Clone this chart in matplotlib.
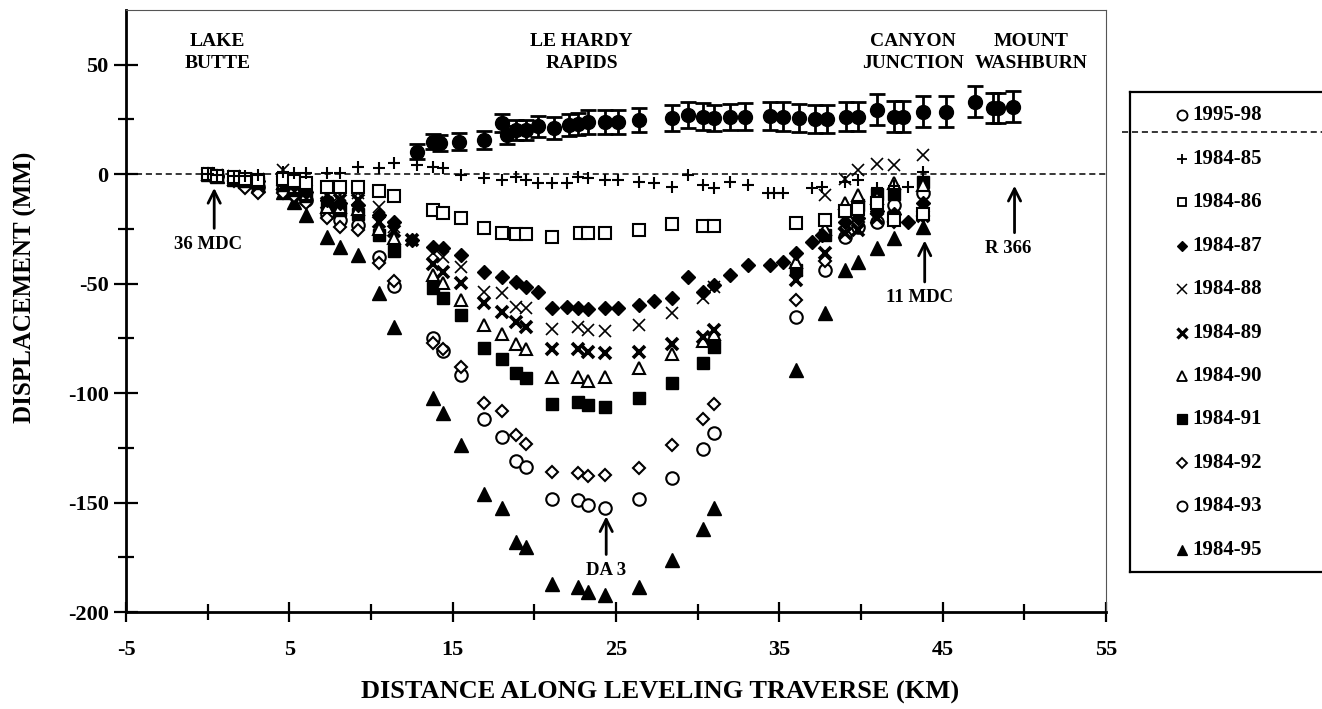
import numpy as np
import matplotlib
matplotlib.use('Agg')
import matplotlib.pyplot as plt

plt.rcParams['font.family'] = ['Liberation Serif', 'DejaVu Serif']
plt.rcParams['font.weight'] = 'bold'
plt.rcParams['axes.unicode_minus'] = False

# --- survey data (km along traverse, displacement in mm) ---
km_9598 = [12.8, 13.8, 14.2, 15.4, 16.9, 18.0, 18.3, 18.9, 19.5, 20.2, 21.2, 22.1, 22.7,
           23.3, 24.3, 25.1, 26.4, 28.4, 29.4, 30.3, 31.0, 32.0, 32.9, 34.4, 35.2, 36.2,
           37.2, 37.9, 39.1, 39.8, 41.0, 42.0, 42.6, 43.8, 45.2, 47.0, 48.1, 48.4, 49.3]
d_9598 = [10.3, 14.9, 14.2, 14.9, 15.7, 23.3, 18.0, 20.3, 20.3, 21.8, 21.0, 22.5, 23.0,
          24.0, 24.0, 24.0, 24.8, 25.6, 27.1, 26.3, 25.6, 26.1, 26.3, 26.7, 26.3, 25.6,
          25.1, 25.1, 26.3, 26.3, 29.4, 26.3, 26.3, 28.6, 28.6, 33.2, 30.2, 30.2, 30.9]
err_9598 = [3.5, 3.5, 3.5, 4, 4, 4, 4, 4.5, 4.5, 5, 5, 5, 5,
            5.5, 5.5, 5.5, 5.5, 6, 6, 6, 6, 6, 6, 6.5, 6.5, 6.5,
            6.5, 6.5, 6.5, 6.5, 7, 7, 7, 7, 7, 7, 7, 7, 7]

km_8485 = [0.0, 0.6, 1.6, 2.3, 3.1, 4.6, 5.3, 6.0, 7.3, 8.1, 9.2, 10.5, 11.4, 12.8, 13.8,
           14.4, 15.5, 16.9, 18.0, 18.9, 19.5, 20.2, 21.1, 22.0, 22.7, 23.3, 24.3, 25.1,
           26.4, 27.3, 28.4, 29.4, 30.3, 31.0, 32.0, 33.1, 34.3, 34.7, 35.2, 37.0, 37.6,
           39.0, 39.8, 41.0, 42.0, 42.9, 43.8]
d_8485 = [0, -0.5, -1, -1, -0.5, 1, 0.5, 0.5, 0.5, 0.5, 3.5, 3.0, 5.0, 4.3, 3.5,
          2.7, -0.3, -1.8, -2.6, -1.1, -2.6, -4.1, -4.1, -4.1, -1.1, -1.8, -2.6, -2.6,
          -3.4, -3.8, -5.7, -0.3, -4.9, -6.4, -3.4, -4.9, -8.7, -8.7, -8.7, -6.4, -5.7,
          -3.4, -2.6, -6.4, -5.4, -5.7, 1.2]

km_8486 = [0.0, 0.6, 1.6, 2.3, 3.1, 4.6, 5.3, 6.0, 7.3, 8.1, 9.2, 10.5, 11.4, 13.8, 14.4,
           15.5, 16.9, 18.0, 18.9, 19.5, 21.1, 22.8, 23.3, 24.3, 26.4, 28.4, 30.3, 31.0,
           36.0, 37.8, 39.0, 39.8, 41.0, 42.0, 43.8]
d_8486 = [0, -1, -1.5, -2, -2.5, -2, -3, -4, -5.7, -5.7, -5.7, -7.9, -9.9, -16.3, -17.8,
          -20.1, -24.7, -27.0, -27.3, -27.3, -28.5, -26.7, -26.7, -27.0, -25.5, -22.7, -23.5, -23.5,
          -22.4, -20.9, -17, -16, -13, -20.9, -18]

km_8487 = [0.0, 0.6, 1.6, 2.3, 3.1, 4.6, 5.3, 6.0, 7.3, 8.1, 9.2, 10.5, 11.4, 12.5, 13.8,
           14.4, 15.5, 16.9, 18.0, 18.9, 19.5, 20.2, 21.1, 22.0, 22.7, 23.3, 24.3, 25.1,
           26.4, 27.3, 28.4, 29.4, 30.3, 31.0, 32.0, 33.1, 34.4, 35.2, 36.0, 37.0, 37.6,
           39.0, 39.8, 41.0, 42.0, 42.9, 43.8]
d_8487 = [0, -1, -2, -2.5, -3, -4, -5, -8, -12, -13, -14, -18.6, -22, -30, -33.1,
          -33.8, -36.9, -44.5, -46.8, -49.1, -51.4, -54.0, -61.0, -60.5, -61.0, -61.7, -61.3, -61.0,
          -59.8, -57.8, -56.7, -46.8, -53.7, -50.6, -46.0, -41.5, -41.5, -40.0, -36.1, -30.8, -27.8,
          -22, -20, -17, -18, -21.7, -13.3]

# stations shared by the later surveys
km_late = [0.0, 0.6, 1.6, 2.3, 3.1, 4.6, 5.3, 6.0, 7.3, 8.1, 9.2, 10.5, 11.4, 13.8, 14.4,
           15.5, 16.9, 18.0, 18.9, 19.5, 21.1, 22.7, 23.3, 24.3, 26.4, 28.4, 30.3, 31.0,
           36.0, 37.8, 39.0, 39.8, 41.0, 42.0, 43.8]
d_8488 = [0, -0.5, -1, -2, -2, 2, -2, -5, -10, -9.5, -8.6, -15, -24, -36, -38,
          -42.2, -53.7, -54.4, -60.5, -61.3, -70.9, -69.7, -71.2, -71.7, -68.9, -63.6, -56.7, -51.4,
          -22.4, -9.5, -2, 1.9, 4.5, 4.3, 8.8]
km_8489 = [0.0, 0.6, 1.6, 2.3, 3.1, 4.6, 5.3, 6.0, 7.3, 8.1, 9.2, 10.5, 11.4, 12.5, 13.8, 14.4,
           15.5, 16.9, 18.0, 18.9, 19.5, 21.1, 22.7, 23.3, 24.3, 26.4, 28.4, 30.3, 31.0,
           36.0, 37.8, 39.0, 39.8, 41.0, 42.0, 43.8]
d_8489 = [0, -1, -2, -2.5, -3, -3, -4, -7, -13, -12, -12, -22, -26, -30, -41, -44.5,
          -49.8, -59, -62.8, -67.4, -69.7, -80, -80, -81.4, -81.9, -81.1, -77.6, -74.3, -71.2,
          -48.3, -36.1, -27, -25.5, -20, -19.5, -19]
d_8490 = [0, -1, -2, -3, -3, -4, -6, -9, -15, -15, -16, -25, -29, -46, -49.8,
          -57.5, -68.9, -73, -77.6, -80, -92.8, -92.5, -94.4, -92.8, -88.7, -82.3, -76.1, -73,
          -40, -25, -13.3, -9.5, -11, -4.1, -5]
d_8491 = [0, -1, -2, -3, -4, -5, -7, -10, -14, -16.5, -18, -28, -35, -52, -56.7,
          -64.3, -79.6, -84.6, -91, -93.3, -105, -104, -105.5, -106.5, -102.4, -95.6, -86.1, -78.8,
          -43.8, -28, -17, -14, -9, -9, -3.4]
d_8492 = [0, -1, -3, -6.4, -8.7, -8.7, -10, -13, -20, -24, -25.5, -40.5, -49, -77, -80,
          -88, -104.4, -108.1, -119.2, -123.3, -136, -136.4, -138, -137.2, -134.4, -123.8, -111.9, -105,
          -57.5, -39.5, -25, -22, -18, -22, -19]
d_8493 = [0, -1, -2, -4, -6, -7, -9, -12, -18, -21, -23, -38, -51, -75, -81,
          -91.8, -111.9, -120, -131, -133.7, -148.2, -149, -150.9, -152.4, -148.6, -138.7, -125.7, -118.4,
          -65.1, -43.8, -28.5, -24, -22, -14, -8.7]
d_8495 = [0, -1, -2, -3, -5, -8, -12.5, -18.6, -28.5, -33.1, -36.9, -54.1, -69.7, -102.4, -109.3,
          -123.8, -146.3, -152.7, -168, -170.5, -187.2, -188.6, -190.9, -192.1, -188.6, -176.4, -161.9, -152.4,
          -89.6, -63.6, -43.8, -40, -33.8, -29.3, -24]

labels = ['1995-98', '1984-85', '1984-86', '1984-87', '1984-88', '1984-89',
          '1984-90', '1984-91', '1984-92', '1984-93', '1984-95']

# marker styles: (marker, size, filled, edge width)
styles = {
    '1995-98': ('o', 9, False, 1.5),
    '1984-85': ('+', 9, True, 1.5),
    '1984-86': ('s', 8, False, 1.5),
    '1984-87': ('D', 7, True, 1.0),
    '1984-88': ('x', 9, True, 1.2),
    '1984-89': ('x', 8.5, True, 2.6),
    '1984-90': ('^', 9, False, 1.5),
    '1984-91': ('s', 8.5, True, 1.0),
    '1984-92': ('D', 6, False, 1.5),
    '1984-93': ('o', 9, False, 1.5),
    '1984-95': ('^', 9.5, True, 1.0),
}

series = [
    ('1984-95', km_late, d_8495),
    ('1984-93', km_late, d_8493),
    ('1984-92', km_late, d_8492),
    ('1984-91', km_late, d_8491),
    ('1984-90', km_late, d_8490),
    ('1984-89', km_8489, d_8489),
    ('1984-88', km_late, d_8488),
    ('1984-87', km_8487, d_8487),
    ('1984-86', km_8486, d_8486),
    ('1984-85', km_8485, d_8485),
]


def mstyle(name, scale=1.0):
    m, ms, filled, mew = styles[name]
    return dict(marker=m, markersize=ms * scale, markeredgewidth=mew * min(1, scale + 0.1),
                color='black', markerfacecolor='black' if filled else 'white',
                markeredgecolor='black', linestyle='none')


fig = plt.figure(figsize=(13.22, 7.09), dpi=100)
ax = fig.add_axes([126 / 1322, 97 / 709, 980 / 1322, 602 / 709])

ax.axhline(0, color='black', lw=1.1, ls=(0, (4, 2.5)), zorder=1)

for name, x, y in series:
    ax.plot(x, y, zorder=3, **mstyle(name))

ax.errorbar(km_9598, d_9598, yerr=err_9598, fmt='o', color='black', ms=10,
            elinewidth=2, capsize=6, capthick=2, zorder=4)

ax.set_xlim(-5, 55)
ax.set_ylim(-200, 75)
ax.set_xticks(np.arange(-5, 56, 10))
ax.set_xticks(np.arange(0, 51, 10), minor=True)
ax.set_yticks(np.arange(-200, 51, 50))
ax.set_yticks(np.arange(-175, 51, 50), minor=True)
ax.tick_params(axis='x', which='major', direction='inout', length=14, width=1.6,
               labelsize=16, pad=13)
ax.tick_params(axis='x', which='minor', direction='inout', length=11, width=1.6)
ax.tick_params(axis='y', which='major', direction='inout', length=17, width=1.6,
               labelsize=16, pad=4)
ax.tick_params(axis='y', which='minor', direction='inout', length=12, width=1.6)
for s in ['left', 'bottom']:
    ax.spines[s].set_linewidth(2)
for s in ['top', 'right']:
    ax.spines[s].set_linewidth(0.8)
    ax.spines[s].set_color('#555555')

# place names
for x, txt in [(0.6, 'LAKE\nBUTTE'), (22.9, 'LE HARDY\nRAPIDS'),
               (43.2, 'CANYON\nJUNCTION'), (50.4, 'MOUNT\nWASHBURN')]:
    ax.text(x, 55.5, txt, ha='center', va='center', fontsize=14, linespacing=1.4)

# benchmark arrows
arrow = dict(arrowstyle='->', lw=2, color='black', mutation_scale=22)
for txt, xy, xytext in [('36 MDC', (0.4, -5), (0.0, -32)),
                        ('DA 3', (24.4, -155), (24.4, -181)),
                        ('11 MDC', (43.9, -29), (43.6, -56.5)),
                        ('R 366', (49.4, -4), (49.0, -34))]:
    ax.annotate('', xy=xy, xytext=(xy[0], xytext[1] + 6), arrowprops=arrow)
    ax.text(xytext[0], xytext[1], txt, ha='center', va='center', fontsize=13.5)

fig.text(660 / 1322, 1 - 692 / 709, 'DISTANCE ALONG LEVELING TRAVERSE (KM)',
         ha='center', va='center', fontsize=19)
fig.text(25 / 1322, 1 - 287 / 709, 'DISPLACEMENT (MM)', rotation=90,
         ha='center', va='center', fontsize=18)

# legend panel
lax = fig.add_axes([1130 / 1322, 1 - 572 / 709, 192 / 1322, 480 / 709])
lax.set_xlim(0, 1)
lax.set_ylim(10.506, -0.529)
lax.set_xticks([])
lax.set_yticks([])
for s in ['left', 'bottom', 'top']:
    lax.spines[s].set_linewidth(1.6)
lax.spines['right'].set_visible(False)
for i, name in enumerate(labels):
    lax.plot([0.27], [i], **mstyle(name, 0.8))
    lax.text(0.325, i, name, ha='left', va='center', fontsize=15)
lax.plot([-0.04, 1.0], [0.384, 0.384], color='black', lw=1.1, ls=(0, (4, 2.5)),
         clip_on=False)

fig.savefig('out.png', dpi=100)
